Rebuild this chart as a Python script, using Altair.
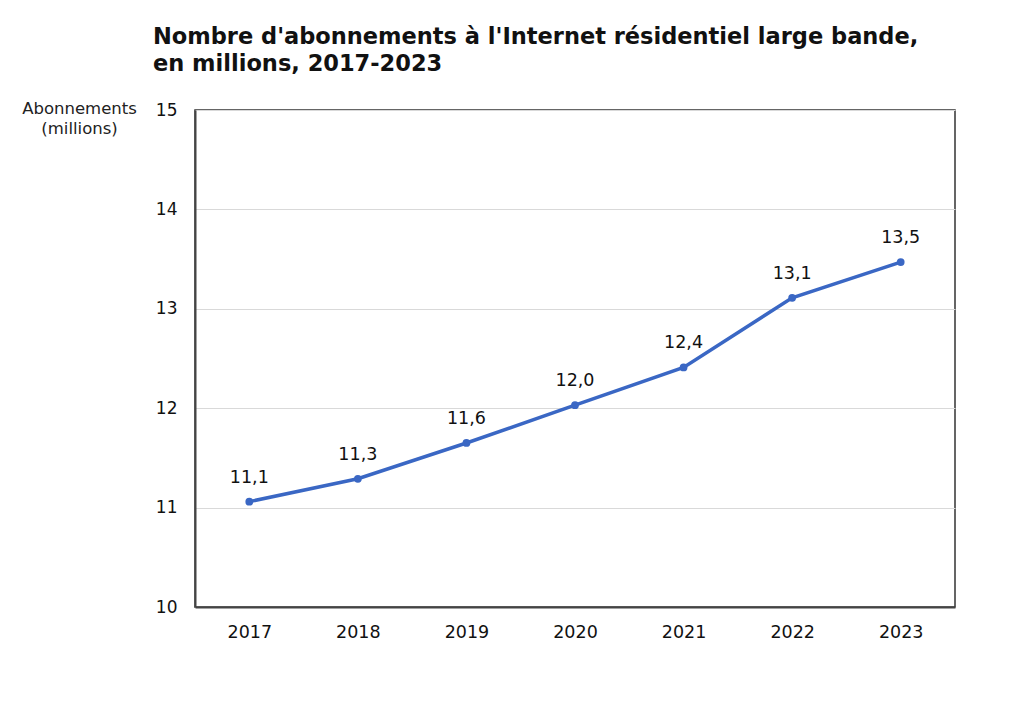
import altair as alt
import pandas as pd

years = ["2017", "2018", "2019", "2020", "2021", "2022", "2023"]
values = [11.06, 11.29, 11.65, 12.03, 12.41, 13.11, 13.47]
labels = ["11,1", "11,3", "11,6", "12,0", "12,4", "13,1", "13,5"]

df = pd.DataFrame({"annee": years, "valeur": values, "etiquette": labels})

FONT = "DejaVu Sans"
BLUE = "#3a67c4"

x = alt.X("annee:O", title=None,
          scale=alt.Scale(type="point", padding=0.5),
          axis=alt.Axis(labelAngle=0, labelFontSize=17.5, labelColor="#111",
                        labelPadding=16, ticks=False, domain=True,
                        domainColor="#444", domainWidth=2, grid=False,
                        labelFont=FONT))
y = alt.Y("valeur:Q",
          scale=alt.Scale(domain=[10, 15], nice=False, zero=False),
          axis=alt.Axis(values=[10, 11, 12, 13, 14, 15], format="d",
                        title=["Abonnements", "(millions)"],
                        titleAngle=0, titleAlign="center", titleBaseline="top",
                        titleX=-116, titleY=-10, titleFontSize=16.5,
                        titleLineHeight=20,
                        titleFontWeight="normal", titleColor="#222",
                        titleFont=FONT,
                        labelFontSize=17, labelColor="#111", labelFont=FONT,
                        labelPadding=18, ticks=False,
                        domainColor="#444", domainWidth=2,
                        gridColor="#d9d9d9", gridWidth=1.2))

base = alt.Chart(df)

line = base.mark_line(color=BLUE, strokeWidth=3.5).encode(x=x, y=y)
pts = base.mark_point(color=BLUE, filled=True, size=60, opacity=1).encode(x=x, y=y)
txt = base.mark_text(baseline="bottom", dy=-15, fontSize=17.5, font=FONT,
                     color="#111").encode(x=x, y=y, text="etiquette:N")

chart = (line + pts + txt).properties(
    width=760, height=497,
    background="white",
    title=alt.TitleParams(
        ["Nombre d'abonnements à l'Internet résidentiel large bande,",
         "en millions, 2017-2023"],
        anchor="start", frame="group", dx=-42, fontSize=22.5, font=FONT,
        fontWeight="bold", color="#111", lineHeight=27, offset=25),
    autosize=alt.AutoSizeParams(type="none"),
    padding={"left": 187, "top": 102, "right": 49, "bottom": 86},
).configure_view(stroke="#333", strokeWidth=1.5)

chart.save("out.html", embed_options={"renderer": "svg", "actions": False})
